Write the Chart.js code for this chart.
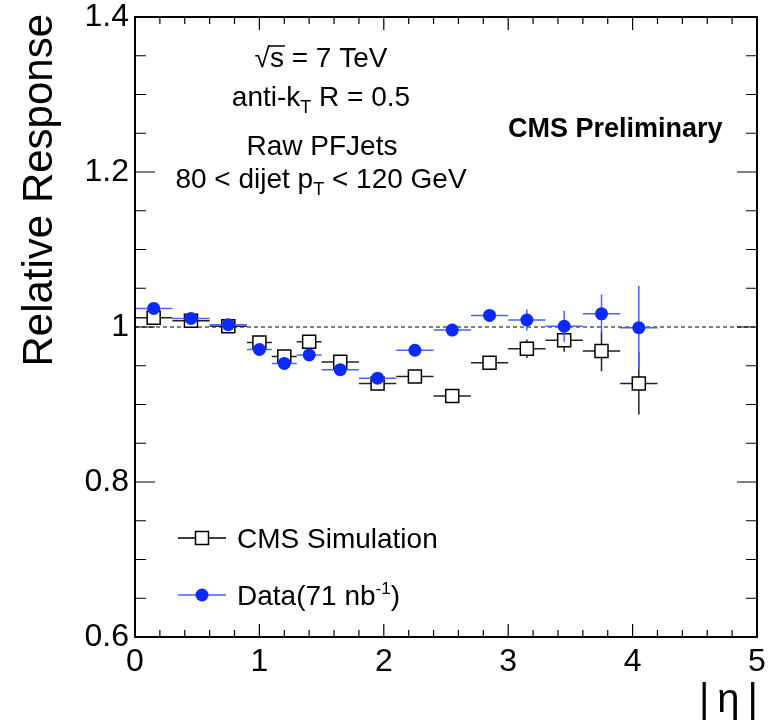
<!DOCTYPE html>
<html lang="en">
<head>
  <meta charset="UTF-8">
  <title>Relative Response vs |eta|</title>
  <style>
    body { margin: 0; background: #fff; }
  </style>
</head>
<body>
  <canvas id="respChart" width="778" height="723"></canvas>

  <script src="https://cdn.jsdelivr.net/npm/chart.js"></script>
  <script>
    // bins in |eta|
    const binEdges = [0, 0.3, 0.6, 0.9, 1.1, 1.3, 1.5, 1.8, 2.1, 2.4, 2.7, 3.0, 3.3, 3.6, 3.9, 4.2];

    const simValues = [1.012, 1.008, 1.001, 0.980, 0.962, 0.981, 0.955, 0.927, 0.936, 0.911, 0.954, 0.972, 0.983, 0.969, 0.927];
    const simErrors = [0.002, 0.002, 0.002, 0.003, 0.003, 0.003, 0.003, 0.003, 0.004, 0.005, 0.006, 0.012, 0.015, 0.026, 0.040];

    const dataValues = [1.024, 1.011, 1.003, 0.971, 0.953, 0.964, 0.945, 0.934, 0.970, 0.996, 1.015, 1.009, 1.001, 1.017, 0.999];
    const dataErrors = [0.002, 0.002, 0.002, 0.004, 0.004, 0.004, 0.004, 0.005, 0.005, 0.006, 0.007, 0.0135, 0.020, 0.025, 0.054];

    const xTicks = [0, 1, 2, 3, 4, 5];
    const yTicks = [0.6, 0.8, 1.0, 1.2, 1.4];

    const FONT = '"Liberation Sans", Arial, Helvetica, sans-serif';
    const DATA_BLUE = 'rgb(12, 42, 255)';
    const DATA_ERR = 'rgb(70, 100, 255)';

    function makePoints(values, errors) {
      return values.map((v, i) => ({
        x: (binEdges[i] + binEdges[i + 1]) / 2,
        y: v,
        xlo: binEdges[i],
        xhi: binEdges[i + 1],
        err: errors[i]
      }));
    }

    // draw text made of pieces (normal / sub / superscript)
    function drawPieces(ctx, pieces, x, baseline, align) {
      let total = 0;
      pieces.forEach(p => {
        ctx.font = (p.bold ? 'bold ' : '') + p.size + 'px ' + FONT;
        p.w = ctx.measureText(p.t).width;
        total += p.w;
      });
      let cx = align === 'center' ? x - total / 2 : x;
      ctx.textAlign = 'left';
      ctx.textBaseline = 'alphabetic';
      pieces.forEach(p => {
        ctx.font = (p.bold ? 'bold ' : '') + p.size + 'px ' + FONT;
        ctx.fillText(p.t, cx, baseline + (p.dy || 0));
        p.x = cx;
        cx += p.w;
      });
      return pieces;
    }

    const errorBars = {
      id: 'errorBars',
      beforeDatasetsDraw(chart) {
        const { ctx, chartArea, scales } = chart;
        const y1 = scales.y.getPixelForValue(1);
        ctx.save();
        ctx.strokeStyle = '#000';
        ctx.lineWidth = 1;
        ctx.setLineDash([4, 3]);
        ctx.beginPath();
        ctx.moveTo(chartArea.left, y1);
        ctx.lineTo(chartArea.right, y1);
        ctx.stroke();
        ctx.restore();
      },
      beforeDatasetDraw(chart, args) {
        const { ctx, scales } = chart;
        const ds = chart.data.datasets[args.index];
        ctx.save();
        ctx.strokeStyle = ds.errColor;
        ctx.lineWidth = 1.5;
        ds.data.forEach(p => {
          const px = scales.x.getPixelForValue(p.x);
          const py = scales.y.getPixelForValue(p.y);
          ctx.beginPath();
          ctx.moveTo(scales.x.getPixelForValue(p.xlo), py);
          ctx.lineTo(scales.x.getPixelForValue(p.xhi), py);
          ctx.moveTo(px, scales.y.getPixelForValue(p.y - p.err));
          ctx.lineTo(px, scales.y.getPixelForValue(p.y + p.err));
          ctx.stroke();
        });
        ctx.restore();
      }
    };

    const frameAndText = {
      id: 'frameAndText',
      afterDraw(chart) {
        const { ctx, chartArea: a, scales } = chart;
        ctx.save();

        // frame
        ctx.strokeStyle = '#000';
        ctx.lineWidth = 2;
        ctx.strokeRect(a.left, a.top, a.right - a.left, a.bottom - a.top);

        // ticks pointing inwards
        ctx.lineWidth = 1.2;
        ctx.beginPath();
        for (let v = 0; v <= 5.0001; v += 0.2) {
          const px = scales.x.getPixelForValue(v);
          const major = Math.abs(v - Math.round(v)) < 1e-6;
          const len = major ? 13 : 7;
          ctx.moveTo(px, a.bottom); ctx.lineTo(px, a.bottom - len);
          ctx.moveTo(px, a.top); ctx.lineTo(px, a.top + len);
        }
        for (let v = 0.6; v <= 1.4001; v += 0.05) {
          const py = scales.y.getPixelForValue(v);
          const major = Math.abs(v * 5 - Math.round(v * 5)) < 1e-6;
          const len = major ? 20 : 11;
          ctx.moveTo(a.left, py); ctx.lineTo(a.left + len, py);
          ctx.moveTo(a.right, py); ctx.lineTo(a.right - len, py);
        }
        ctx.stroke();

        ctx.fillStyle = '#000';

        // axis titles
        ctx.save();
        ctx.translate(52, 14);
        ctx.rotate(-Math.PI / 2);
        ctx.font = '42px ' + FONT;
        ctx.textAlign = 'right';
        ctx.textBaseline = 'alphabetic';
        ctx.fillText('Relative Response', 0, 0);
        ctx.restore();

        ctx.font = '40px ' + FONT;
        ctx.textAlign = 'right';
        ctx.textBaseline = 'alphabetic';
        ctx.fillText('|\u2009\u03b7\u2009|', 758, 712);

        // info text
        const s = drawPieces(ctx, [{ t: '\u221As', size: 28 }, { t: ' = 7 TeV', size: 28 }], 321, 67, 'center');
        ctx.font = '28px ' + FONT;
        const rootW = ctx.measureText('\u221A').width;
        ctx.lineWidth = 1.5;
        ctx.beginPath();
        ctx.moveTo(s[0].x + rootW - 1, 67 - 21);
        ctx.lineTo(s[0].x + s[0].w + 1, 67 - 21);
        ctx.stroke();

        drawPieces(ctx, [{ t: 'anti-k', size: 28 }, { t: 'T', size: 18, dy: 7 }, { t: ' R = 0.5', size: 28 }], 321, 106, 'center');
        drawPieces(ctx, [{ t: 'Raw PFJets', size: 28 }], 322, 155, 'center');
        drawPieces(ctx, [{ t: '80 < dijet p', size: 28 }, { t: 'T', size: 18, dy: 7 }, { t: ' < 120 GeV', size: 28 }], 321, 188, 'center');
        drawPieces(ctx, [{ t: 'CMS Preliminary', size: 27, bold: true }], 508, 137, 'left');

        // legend
        const sim = chart.data.datasets[1];
        const dat = chart.data.datasets[0];
        ctx.lineWidth = 1.5;
        ctx.strokeStyle = '#000';
        ctx.beginPath();
        ctx.moveTo(178, 538); ctx.lineTo(226, 538);
        ctx.stroke();
        ctx.fillStyle = '#fff';
        ctx.fillRect(195.5, 531.5, 13, 13);
        ctx.strokeRect(195.5, 531.5, 13, 13);
        ctx.fillStyle = '#000';
        drawPieces(ctx, [{ t: sim.label, size: 28 }], 237, 548, 'left');

        ctx.strokeStyle = DATA_ERR;
        ctx.beginPath();
        ctx.moveTo(178, 595); ctx.lineTo(226, 595);
        ctx.stroke();
        ctx.fillStyle = DATA_BLUE;
        ctx.beginPath();
        ctx.arc(202, 595, 6.5, 0, Math.PI * 2);
        ctx.fill();
        ctx.fillStyle = '#000';
        drawPieces(ctx, [{ t: dat.label, size: 28 }, { t: '-1', size: 17, dy: -11 }, { t: ')', size: 28 }], 237, 605, 'left');

        ctx.restore();
      }
    };

    const ctx = document.getElementById('respChart').getContext('2d');
    new Chart(ctx, {
      type: 'scatter',
      data: {
        datasets: [
          {
            label: 'Data(71 nb',
            data: makePoints(dataValues, dataErrors),
            pointStyle: 'circle',
            pointRadius: 6.5,
            pointHoverRadius: 6.5,
            backgroundColor: DATA_BLUE,
            borderColor: DATA_BLUE,
            borderWidth: 0,
            errColor: DATA_ERR,
            order: 1
          },
          {
            label: 'CMS Simulation',
            data: makePoints(simValues, simErrors),
            pointStyle: 'rect',
            pointRadius: 9.2,
            pointHoverRadius: 9.2,
            backgroundColor: '#fff',
            borderColor: '#000',
            borderWidth: 1.5,
            errColor: '#222',
            order: 2
          }
        ]
      },
      options: {
        responsive: false,
        animation: false,
        devicePixelRatio: 1,
        layout: { padding: { top: 17, right: 21, left: 0, bottom: 0 } },
        plugins: {
          legend: { display: false },
          tooltip: { enabled: false }
        },
        scales: {
          x: {
            type: 'linear',
            min: 0,
            max: 5,
            afterFit: s => { s.height = 86; s.paddingLeft = 0; s.paddingRight = 0; },
            afterBuildTicks: s => { s.ticks = xTicks.map(v => ({ value: v })); },
            grid: { display: false, drawTicks: false },
            border: { display: false },
            ticks: {
              padding: 6,
              maxRotation: 0,
              autoSkip: false,
              color: '#000',
              font: { family: FONT, size: 32 },
              callback: v => String(v)
            }
          },
          y: {
            type: 'linear',
            min: 0.6,
            max: 1.4,
            afterFit: s => { s.width = 135; s.paddingTop = 0; s.paddingBottom = 0; },
            afterBuildTicks: s => { s.ticks = yTicks.map(v => ({ value: v })); },
            grid: { display: false, drawTicks: false },
            border: { display: false },
            ticks: {
              padding: 6,
              autoSkip: false,
              color: '#000',
              font: { family: FONT, size: 32 },
              callback: v => Math.abs(v - 1) < 1e-9 ? '1' : v.toFixed(1)
            }
          }
        }
      },
      plugins: [errorBars, frameAndText]
    });
  </script>
</body>
</html>
